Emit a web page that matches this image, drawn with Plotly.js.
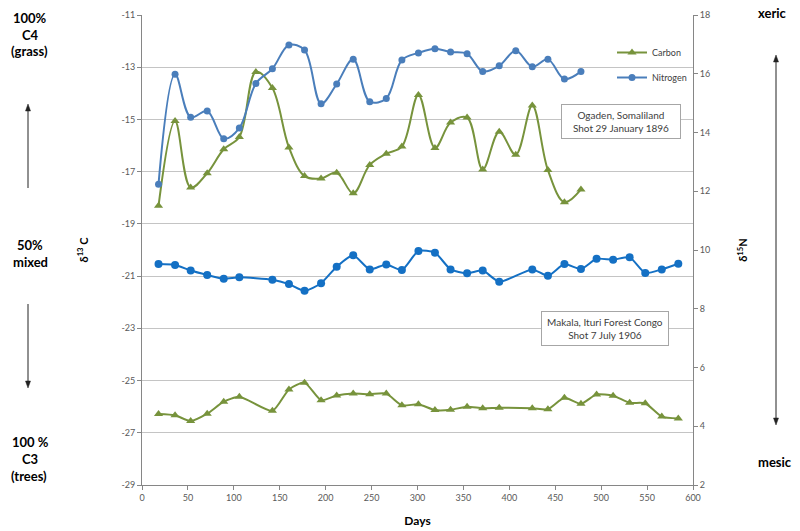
<!DOCTYPE html>
<html>
<head>
<meta charset="utf-8">
<script src="https://cdn.plot.ly/plotly-3.0.1.min.js"></script>
<style>
  html, body { margin: 0; padding: 0; background: #fff; }
  #chart { width: 800px; height: 531px; }
</style>
</head>
<body>
<div id="chart"></div>
<script>
// Sampling days along the hair / tooth sequence
const ogadenDays = [18, 36, 53, 71, 89, 106, 124, 142, 160, 177, 195, 212, 230, 248, 266, 283, 301, 319, 336, 354, 371, 389, 407, 425, 442, 460, 478];
const makalaDays = [18, 36, 53, 71, 89, 106, 142, 160, 177, 195, 212, 230, 248, 266, 283, 301, 319, 336, 354, 371, 389, 425, 442, 460, 478, 495, 513, 531, 548, 566, 584];

// Ogaden, Somaliland (shot 29 January 1896)
const ogadenCarbon = [-18.31, -15.06, -17.61, -17.06, -16.14, -15.67, -13.18, -13.80, -16.07, -17.17, -17.26, -17.04, -17.83, -16.74, -16.31, -16.04, -14.06, -16.09, -15.12, -14.93, -16.92, -15.47, -16.35, -14.47, -16.94, -18.17, -17.68];
const ogadenNitrogen = [12.24, 15.98, 14.52, 14.73, 13.79, 14.15, 15.67, 16.17, 16.98, 16.81, 14.98, 15.65, 16.49, 15.05, 15.16, 16.47, 16.71, 16.85, 16.74, 16.68, 16.08, 16.27, 16.78, 16.24, 16.49, 15.82, 16.08];

// Makala, Ituri Forest Congo (shot 7 July 1906)
const makalaCarbon = [-26.28, -26.33, -26.55, -26.27, -25.81, -25.62, -26.16, -25.34, -25.08, -25.75, -25.57, -25.50, -25.52, -25.50, -25.95, -25.91, -26.13, -26.12, -26.00, -26.06, -26.04, -26.06, -26.10, -25.66, -25.89, -25.53, -25.58, -25.85, -25.87, -26.38, -26.45];
const makalaNitrogen = [9.52, 9.49, 9.30, 9.15, 9.02, 9.07, 8.99, 8.84, 8.61, 8.87, 9.43, 9.82, 9.34, 9.51, 9.32, 9.97, 9.91, 9.34, 9.21, 9.30, 8.92, 9.34, 9.12, 9.52, 9.35, 9.70, 9.67, 9.75, 9.22, 9.34, 9.53];

// Axis ticks
const dayTicks = [0, 50, 100, 150, 200, 250, 300, 350, 400, 450, 500, 550, 600];
const carbonTicks = [-29, -27, -25, -23, -21, -19, -17, -15, -13, -11];
const nitrogenTicks = [2, 4, 6, 8, 10, 12, 14, 16, 18];

const GREEN = '#77933C';
const BLUE_LIGHT = '#4A7EBB';
const BLUE_DARK = '#1470C4';
const FONT = 'Lato, "Open Sans", "DejaVu Sans", sans-serif';

// plot area in pixels, used to place free-standing labels and arrows
const W = 800, H = 531;
const PL = 142, PR = 693, PT = 15, PB = 485;
const px = v => (v - PL) / (PR - PL);
const py = v => (PB - v) / (PB - PT);

const traces = [
  {
    x: ogadenDays, y: ogadenCarbon, name: 'Carbon', yaxis: 'y',
    mode: 'lines+markers', legendgroup: 'c',
    line: { color: GREEN, width: 2, shape: 'spline', smoothing: 1 },
    marker: { symbol: 'triangle-up', size: 8, color: GREEN }
  },
  {
    x: ogadenDays, y: ogadenNitrogen, name: 'Nitrogen', yaxis: 'y2',
    mode: 'lines+markers', legendgroup: 'n',
    line: { color: BLUE_LIGHT, width: 2, shape: 'spline', smoothing: 1 },
    marker: { symbol: 'circle', size: 7, color: BLUE_LIGHT }
  },
  {
    x: makalaDays, y: makalaCarbon, name: 'Carbon', yaxis: 'y', showlegend: false,
    mode: 'lines+markers', legendgroup: 'c',
    line: { color: GREEN, width: 2, shape: 'spline', smoothing: 0.6 },
    marker: { symbol: 'triangle-up', size: 8, color: GREEN }
  },
  {
    x: makalaDays, y: makalaNitrogen, name: 'Nitrogen', yaxis: 'y2', showlegend: false,
    mode: 'lines+markers', legendgroup: 'n',
    line: { color: BLUE_DARK, width: 2, shape: 'spline', smoothing: 0.6 },
    marker: { symbol: 'circle', size: 8, color: BLUE_DARK }
  }
];

const sideText = (text, xPix, yPix, size) => ({
  xref: 'paper', yref: 'paper', x: px(xPix), y: py(yPix),
  xanchor: 'center', yanchor: 'middle', showarrow: false,
  text: '<b>' + text + '</b>', font: { family: FONT, size: size || 13, color: '#000' }
});

const noteBox = (text, cx, cy, w, h) => ({
  xref: 'paper', yref: 'paper', x: px(cx), y: py(cy),
  xanchor: 'center', yanchor: 'middle', showarrow: false,
  text: text, align: 'center', width: w, height: h,
  bgcolor: '#fff', bordercolor: '#a6a6a6', borderwidth: 1, borderpad: 0,
  font: { family: FONT, size: 10, color: '#404040' }
});

const annotations = [
  sideText('100%', 30, 18), sideText('C4', 30, 35), sideText('(grass)', 29, 51),
  sideText('50%', 30, 245), sideText('mixed', 30, 262),
  sideText('100 %', 30, 442), sideText('C3', 30, 459), sideText('(trees)', 29, 476),
  sideText('xeric', 772, 13), sideText('mesic', 775, 462),
  noteBox('Ogaden, Somaliland<br>Shot 29 January 1896', 621, 121.5, 118, 33),
  noteBox('Makala, Ituri Forest Congo<br>Shot 7 July 1906', 604.5, 328.5, 126, 33)
];

// vertical arrows: a shaft plus filled triangular heads
const ARROW_COLOR = '#222';
const shaft = (x, y0, y1) => ({
  type: 'line', xref: 'paper', yref: 'paper',
  x0: px(x), x1: px(x), y0: py(y0), y1: py(y1),
  line: { color: ARROW_COLOR, width: 1 }
});
const head = (x, tipY, dir) => {
  const baseY = tipY + dir * 7;
  return {
    type: 'path', xref: 'paper', yref: 'paper',
    path: 'M ' + px(x) + ' ' + py(tipY) +
          ' L ' + px(x - 2.5) + ' ' + py(baseY) +
          ' L ' + px(x + 2.5) + ' ' + py(baseY) + ' Z',
    fillcolor: ARROW_COLOR, line: { color: ARROW_COLOR, width: 0.5 }
  };
};

const shapes = [
  shaft(28, 188, 108), head(28, 104, 1),
  shaft(28, 304, 384), head(28, 388, -1),
  shaft(776, 59, 421), head(776, 55, 1), head(776, 425, -1)
];

const tickFont = { family: FONT, size: 9, color: '#595959' };

const layout = {
  width: W, height: H,
  margin: { l: PL, r: W - PR, t: PT, b: H - PB, pad: 0 },
  paper_bgcolor: '#fff', plot_bgcolor: '#fff',
  font: { family: FONT },
  showlegend: true,
  legend: {
    x: px(612), y: py(38), xanchor: 'left', yanchor: 'top',
    bgcolor: 'rgba(0,0,0,0)', borderwidth: 0,
    font: { family: FONT, size: 9, color: '#404040' },
    traceorder: 'grouped', tracegroupgap: 6, itemwidth: 30
  },
  xaxis: {
    range: [0, 600], tickvals: dayTicks, ticktext: dayTicks.map(String),
    showgrid: false, zeroline: false, showline: true, linecolor: '#868686', linewidth: 1,
    ticks: 'outside', ticklen: 4, tickcolor: '#868686', tickfont: tickFont,
    title: { text: '<b>Days</b>', font: { family: FONT, size: 12, color: '#000' }, standoff: 14 }
  },
  yaxis: {
    range: [-29, -11], tickvals: carbonTicks, ticktext: carbonTicks.map(String),
    showgrid: true, gridcolor: '#c4c4c4', gridwidth: 1, zeroline: false,
    showline: true, linecolor: '#868686', linewidth: 1,
    ticks: 'outside', ticklen: 4, tickcolor: '#868686', tickfont: tickFont,
    title: { text: '<b>δ<sup>13</sup> C</b>', font: { family: FONT, size: 11, color: '#000' }, standoff: 30 }
  },
  yaxis2: {
    range: [2, 18], tickvals: nitrogenTicks, ticktext: nitrogenTicks.map(String),
    overlaying: 'y', side: 'right', showgrid: false, zeroline: false,
    showline: true, linecolor: '#868686', linewidth: 1,
    ticks: 'outside', ticklen: 4, tickcolor: '#868686', tickfont: tickFont,
    title: { text: '<b>δ<sup>15</sup>N</b>', font: { family: FONT, size: 11, color: '#000' }, standoff: 30 }
  },
  annotations: annotations,
  shapes: shapes
};

Plotly.newPlot('chart', traces, layout, { displayModeBar: false, responsive: false });
</script>
</body>
</html>
